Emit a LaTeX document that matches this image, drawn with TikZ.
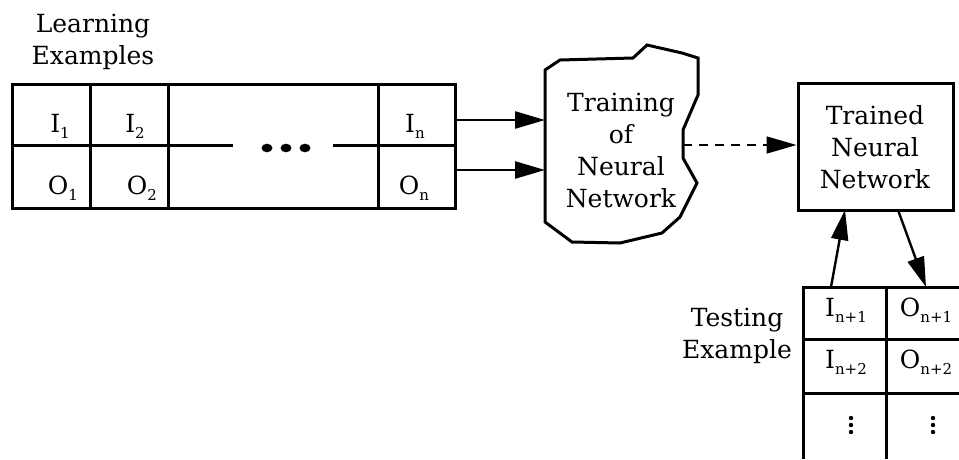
\documentclass[tikz,border=0pt]{standalone}
\usepackage{fontspec}
\setmainfont{DejaVu Serif}
\usetikzlibrary{arrows.meta}
\newcommand\mysub[1]{\raisebox{-0.45ex}{\fontsize{15}{15}\selectfont #1}}
\tikzset{
  lbl/.style={font=\fontsize{25}{32}\selectfont, align=center, inner sep=0pt},
  cellt/.style={font=\fontsize{25}{32}\selectfont, inner sep=0pt},
  frame/.style={line width=3pt},
  arr/.style={line width=2.4pt, -{Triangle[length=30pt,width=17pt]}},
  darr/.style={line width=1.8pt, dash pattern=on 9pt off 7pt, -{Triangle[length=30pt,width=17pt]}},
}
\begin{document}
\begin{tikzpicture}[x=1pt,y=-1pt]
\useasboundingbox (0,0) rectangle (959,459);

% Learning examples label
\node[lbl] (lelab) at (93,42) {Learning\\Examples};

% learning table
\draw[frame] (12,84) rectangle (455,208);
\draw[frame] (90,84) -- (90,208);
\draw[frame] (168,84) -- (168,208);
\draw[frame] (378,84) -- (378,208);
\draw[frame] (12,145) -- (168,145);
\draw[frame] (168,145) -- (233,145);
\draw[frame] (333,145) -- (455,145);
\foreach \x in {267,286,305} \fill (\x,148) ellipse (5.5pt and 4.3pt);
\node[cellt] (i1) at (60,126) {I\mysub{1}};
\node[cellt] (o1) at (63,188) {O\mysub{1}};
\node[cellt] (i2) at (135,126) {I\mysub{2}};
\node[cellt] (o2) at (142,188) {O\mysub{2}};
\node[cellt] (in) at (415,126) {I\mysub{n}};
\node[cellt] (on) at (414,188) {O\mysub{n}};

\coordinate (a1) at (455,120);
\coordinate (a2) at (455,170);
\coordinate (b1) at (545,120);
\coordinate (b2) at (545,170);

% training cloud
\draw[frame, line join=miter] (545,70) -- (560,60) -- (633,58) -- (647,45) -- (682,53) -- (698,58)
  -- (698,95) -- (683,130) -- (683,158) -- (697,183) -- (680,217) -- (662,233)
  -- (620,243) -- (572,242) -- (545,222) -- cycle;
\node[lbl] (train) at (621,150) {Training\\of\\Neural\\Network};
\coordinate (c1) at (683,145);

% trained network
\node[draw, frame, minimum width=155pt, minimum height=127pt, inner sep=0pt] (tnn) at (875.5,146.5) {};
\node[lbl] (tnnt) at (875,147) {Trained\\Neural\\Network};

% arrows
\draw[arr] (a1) -- (b1);
\draw[arr] (a2) -- (b2);
\draw[darr] (c1) -- (tnn.west |- c1);

% testing table
\node[lbl] (telab) at (737,336) {Testing\\Example};
\draw[frame] (803,459) -- (803,287) -- (959,287);
\draw[frame] (886,287) -- (886,459);
\draw[frame] (803,339) -- (959,339);
\draw[frame] (803,393) -- (959,393);
\node[cellt] (i3) at (846,310) {I\mysub{n+1}};
\node[cellt] (o3) at (926,310) {O\mysub{n+1}};
\node[cellt] (i4) at (846,362) {I\mysub{n+2}};
\node[cellt] (o4) at (926,362) {O\mysub{n+2}};
\foreach \x in {851,933} \foreach \y in {418,425,432} \fill (\x,\y) circle (2.2pt);

\coordinate (u1) at (831,287);
\coordinate (u2) at (845,210);
\coordinate (d1) at (898,210);
\coordinate (d2) at (926,287);
\draw[arr] (u1) -- (u2);
\draw[arr] (d1) -- (d2);
\end{tikzpicture}
\end{document}
